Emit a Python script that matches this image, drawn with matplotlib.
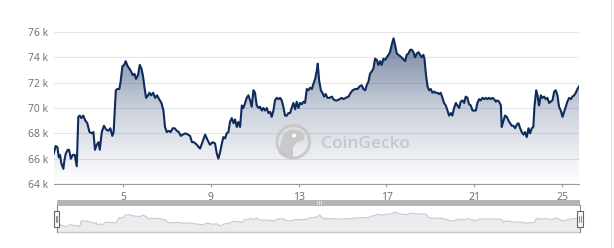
import numpy as np
import matplotlib
matplotlib.use('Agg')
import matplotlib.pyplot as plt
from matplotlib.colors import LinearSegmentedColormap
from matplotlib.patches import PathPatch, Rectangle, Circle, Polygon
from matplotlib.lines import Line2D

# day of month and price (thousands USD)
day = [
    1.84, 1.93, 2.01, 2.07, 2.13, 2.19, 2.28, 2.33, 2.39, 2.48,
    2.54, 2.62, 2.71, 2.80, 2.89, 2.96, 3.03, 3.10, 3.19, 3.28,
    3.37, 3.47, 3.57, 3.65, 3.72, 3.80, 3.88, 3.94, 4.03, 4.13,
    4.23, 4.33, 4.42, 4.51, 4.57, 4.67, 4.74, 4.83, 4.89, 4.97,
    5.05, 5.12, 5.21, 5.29, 5.36, 5.44, 5.52, 5.59, 5.68, 5.76,
    5.84, 5.91, 5.97, 6.05, 6.14, 6.20, 6.28, 6.37, 6.46, 6.55,
    6.64, 6.75, 6.84, 6.91, 6.99, 7.08, 7.17, 7.26, 7.35, 7.45,
    7.54, 7.63, 7.72, 7.84, 7.96, 8.05, 8.14, 8.23, 8.36, 8.45,
    8.51, 8.74, 8.84, 8.96, 9.08, 9.19, 9.27, 9.34, 9.42, 9.50,
    9.57, 9.65, 9.72, 9.80, 9.87, 9.95, 10.03, 10.10, 10.18, 10.25,
    10.33, 10.41, 10.48, 10.56, 10.63, 10.71, 10.79, 10.86, 10.94, 11.01,
    11.09, 11.17, 11.24, 11.32, 11.39, 11.47, 11.55, 11.62, 11.70, 11.77,
    11.85, 11.92, 12.00, 12.08, 12.15, 12.23, 12.30, 12.38, 12.46, 12.53,
    12.61, 12.68, 12.76, 12.84, 12.91, 12.99, 13.06, 13.14, 13.22, 13.29,
    13.37, 13.44, 13.52, 13.60, 13.67, 13.75, 13.82, 13.87, 13.93, 14.01,
    14.08, 14.16, 14.23, 14.31, 14.40, 14.51, 14.58, 14.66, 14.76, 14.86,
    14.96, 15.04, 15.14, 15.27, 15.37, 15.46, 15.57, 15.68, 15.77, 15.87,
    15.95, 16.03, 16.10, 16.18, 16.25, 16.33, 16.40, 16.48, 16.56, 16.63,
    16.71, 16.78, 16.86, 16.94, 17.01, 17.09, 17.16, 17.24, 17.32, 17.39,
    17.47, 17.54,
    17.62, 17.74, 17.85, 17.92, 18.00, 18.08, 18.15, 18.23, 18.30, 18.38,
    18.46, 18.53, 18.61, 18.68, 18.73, 18.80, 18.87, 18.94, 19.02, 19.09,
    19.17, 19.24, 19.32, 19.40, 19.47, 19.55, 19.62, 19.70, 19.78, 19.85,
    19.93, 20.00, 20.08, 20.16, 20.23, 20.31, 20.38, 20.46, 20.54, 20.61,
    20.69, 20.76, 20.84, 20.92, 20.99, 21.07, 21.14, 21.22, 21.29, 21.37,
    21.45, 21.52, 21.60, 21.67, 21.75, 21.83, 21.90, 21.98, 22.05, 22.13,
    22.21, 22.25, 22.33, 22.40, 22.48, 22.56, 22.63, 22.71, 22.78, 22.86,
    22.94, 23.01, 23.09, 23.16, 23.24, 23.31, 23.39, 23.47, 23.54, 23.62,
    23.69, 23.74, 23.82, 23.88, 23.95, 24.03, 24.10, 24.18, 24.26, 24.33,
    24.41, 24.48, 24.56, 24.64, 24.71, 24.79, 24.86, 24.94, 25.02, 25.09,
    25.17, 25.24, 25.32, 25.40, 25.47, 25.55, 25.62, 25.70, 25.77,
]
price_k = [
    66.4, 67.0, 66.9, 66.1, 66.3, 65.6, 65.2, 65.9, 66.4, 66.7,
    66.7, 66.0, 66.3, 66.3, 65.4, 69.3, 69.4, 69.2, 69.4, 69.0,
    68.8, 68.1, 68.0, 68.1, 66.7, 67.1, 67.3, 66.7, 68.1, 68.6,
    68.3, 68.2, 68.4, 67.8, 68.1, 71.4, 71.5, 71.5, 72.1, 73.3,
    73.4, 73.7, 73.3, 73.1, 72.9, 72.6, 72.7, 72.3, 72.6, 73.4,
    73.1, 72.5, 71.7, 70.8, 71.0, 71.2, 71.0, 71.2, 70.8, 71.0,
    70.7, 70.4, 69.8, 68.5, 68.1, 68.2, 68.1, 68.4, 68.4, 68.2,
    68.1, 67.8, 67.9, 68.0, 67.9, 67.8, 67.3, 67.3, 67.1, 66.9,
    66.8, 67.9, 67.5, 67.1, 67.3, 67.2, 66.4, 66.0, 66.5, 67.2,
    67.7, 67.6, 68.0, 68.1, 68.9, 69.2, 68.8, 69.1, 68.5, 68.9,
    68.5, 70.2, 70.0, 70.4, 70.8, 71.0, 70.6, 70.1, 71.4, 71.2,
    70.2, 70.0, 70.1, 69.8, 70.0, 69.8, 70.0, 69.6, 69.7, 69.3,
    69.8, 70.6, 70.8, 70.7, 70.8, 70.6, 70.1, 69.4, 69.4, 69.6,
    69.6, 70.0, 70.4, 69.9, 70.5, 70.0, 70.4, 70.3, 70.5, 70.4,
    71.5, 71.4, 71.6, 71.5, 71.9, 72.3, 72.9, 73.5, 72.2, 71.4,
    71.2, 70.9, 71.1, 70.8, 70.8, 70.9, 70.7, 70.6, 70.6, 70.7,
    70.8, 70.7, 70.8, 70.9, 71.2, 71.4, 71.5, 71.5, 71.7, 71.8,
    71.5, 71.4, 71.8, 72.1, 72.7, 72.9, 73.1, 73.9, 73.8, 73.4,
    73.7, 73.4, 73.9, 73.8, 74.0, 74.2, 74.4, 75.0, 75.5, 75.0,
    74.3, 74.2,
    74.1, 73.9, 73.7, 74.2, 74.3, 74.6, 74.6, 74.4, 74.0, 74.3,
    74.4, 74.2, 74.0, 74.2, 73.9, 72.6, 71.7, 71.4, 71.5, 71.2,
    71.3, 71.2, 71.2, 71.1, 71.2, 70.8, 70.4, 70.2, 69.8, 69.4,
    69.6, 69.4, 70.0, 70.4, 70.2, 70.0, 70.5, 70.6, 70.4, 70.9,
    70.8, 70.3, 70.2, 69.8, 69.8, 69.8, 70.4, 70.7, 70.6, 70.8,
    70.7, 70.8, 70.7, 70.8, 70.7, 70.8, 70.7, 70.5, 70.6, 70.5,
    70.2, 68.5, 69.0, 69.4, 69.3, 69.0, 68.8, 68.6, 68.6, 68.4,
    68.7, 68.8, 68.4, 68.1, 67.9, 68.1, 67.7, 68.4, 68.0, 68.4,
    68.5, 70.1, 71.4, 71.0, 70.2, 71.0, 70.8, 70.9, 70.7, 70.8,
    70.4, 70.5, 70.6, 71.3, 71.4, 71.0, 70.1, 69.8, 69.3, 69.7,
    70.1, 70.5, 70.8, 70.7, 70.9, 71.0, 71.2, 71.5, 71.7,
]

x_ticks = [5, 9, 13, 17, 21, 25]
y_ticks = [64, 66, 68, 70, 72, 74, 76]

W, H = 614, 248
line_col = '#0f2b5b'
font = 'Open Sans'

fig = plt.figure(figsize=(W / 100, H / 100), dpi=100)


def px(x0, y0, x1, y1):
    # pixel box -> figure fraction rect
    return [x0 / W, 1 - y1 / H, (x1 - x0) / W, (y1 - y0) / H]


# ---- main chart
ax = fig.add_axes(px(53.7, 32, 579, 184))
ax.set_xlim(day[0], day[-1])
ax.set_ylim(64, 76)

# gradient area under the line
poly = ax.fill_between(day, price_k, 64, color='none', lw=0)
clip = PathPatch(poly.get_paths()[0], transform=ax.transData, fc='none', ec='none')
ax.add_patch(clip)
cmap = LinearSegmentedColormap.from_list(
    'area', [(0.06, 0.17, 0.36, 0.0), (0.06, 0.17, 0.36, 0.22), (0.06, 0.17, 0.36, 0.62)])
grad = np.linspace(1, 0, 256).reshape(-1, 1)
im = ax.imshow(grad, cmap=cmap, extent=[day[0], day[-1], 64, 76], aspect='auto',
               origin='upper', zorder=1, interpolation='bilinear')
im.set_clip_path(clip)

ax.plot(day, price_k, color=line_col, lw=1.5, zorder=4, solid_joinstyle='round')

ax.set_yticks(y_ticks)
ax.set_yticklabels([f'{v} k' for v in y_ticks])
ax.set_xticks(x_ticks)
ax.grid(axis='y', color='#e3e7ef', lw=0.8, zorder=0)
ax.set_axisbelow(True)
for s in ['top', 'right', 'left']:
    ax.spines[s].set_visible(False)
ax.spines['bottom'].set_color('#9a9a9a')
ax.spines['bottom'].set_linewidth(0.8)
ax.tick_params(axis='y', length=0, pad=4, labelsize=7.5, labelcolor='#6b6b6b')
ax.tick_params(axis='x', length=2.5, width=0.8, color='#9a9a9a', pad=3.5,
               labelsize=7.5, labelcolor='#6b6b6b')
for lab in ax.get_xticklabels() + ax.get_yticklabels():
    lab.set_family(font)

# ---- watermark
ft = fig.dpi_scale_trans


def P(x, y):
    return (x / 100, (H - y) / 100)


wm = '#c6c6c6'
fig.patches.append(Circle(P(293.3, 141.7), 0.163, transform=ft, fc='none',
                          ec=wm, lw=2.2, alpha=0.9, zorder=3))
fig.patches.append(Polygon([P(279, 154), P(281, 141), P(284, 133), P(291, 129.5),
                            P(300, 130.5), P(304.5, 135), P(304, 140), P(297, 142.5),
                            P(293, 147), P(293, 157.5), P(284, 157)],
                           closed=True, transform=ft, fc=wm, ec='none', alpha=0.9, zorder=3))
fig.patches.append(Circle(P(294, 135.5), 0.02, transform=ft, fc='white', ec='none', zorder=3))
fig.text(321.5 / W, 1 - 147.5 / H, 'CoinGecko', color=wm, fontsize=12.5,
         family=font, weight='semibold', ha='left', va='baseline', alpha=0.95)

# ---- navigator
nav = fig.add_axes(px(56.7, 205, 580, 232))
nav.fill_between(day, price_k, 60, color='#ebecef', lw=0)
nav.plot(day, price_k, color='#c4c8d0', lw=0.8)
nav.set_xlim(day[0], day[-1])
nav.set_ylim(61.8, 80.3)
nav.set_xticks([])
nav.set_yticks([])
for s in ['top', 'right', 'left']:
    nav.spines[s].set_visible(False)
nav.spines['bottom'].set_color('#c6c6c6')
nav.spines['bottom'].set_linewidth(1.0)

# scroll bar above navigator
fig.patches.append(Rectangle(P(56.7, 205.5), 523.3 / 100, 6 / 100, transform=ft,
                             fc='#b5b5b5', ec='none', zorder=2))
for gx in (316.5, 318.5, 320.5):
    fig.lines.append(Line2D([gx / 100, gx / 100], [(H - 203.8) / 100, (H - 201.3) / 100],
                            transform=ft, color='#ededed', lw=0.6, zorder=3))

# handles
for hx in (56.7, 580.0):
    fig.lines.append(Line2D([hx / 100, hx / 100], [(H - 232) / 100, (H - 205) / 100],
                            transform=ft, color='#8a8a8a', lw=0.8, zorder=3))
    fig.patches.append(Rectangle(P(hx - 2.6, 227), 5.2 / 100, 16 / 100, transform=ft,
                                 fc='#f7f7f7', ec='#666666', lw=0.8, zorder=4))
    for dx in (-0.8, 0.8):
        fig.lines.append(Line2D([(hx + dx) / 100] * 2, [(H - 222) / 100, (H - 216) / 100],
                                transform=ft, color='#666666', lw=0.5, zorder=5))

# container border on the right
fig.lines.append(Line2D([611 / 100] * 2, [0, H / 100], transform=ft,
                        color='#e2e2e2', lw=0.8))

fig.savefig('out.png', dpi=100)
